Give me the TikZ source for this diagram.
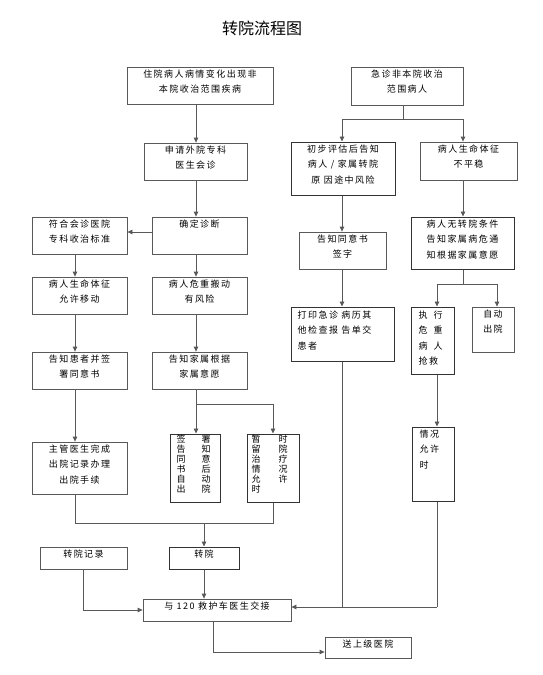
\documentclass[tikz,border=0pt]{standalone}
\usepackage{fontspec}
\setmainfont{Noto Sans CJK SC}[LetterSpace=16]
\newfontfamily\titlefont{Noto Sans CJK SC}
\usetikzlibrary{fit,calc,positioning,arrows.meta}
\begin{document}
\begin{tikzpicture}[x=1pt,y=-1pt,
 box/.style={draw=black!65, line width=0.8pt, inner sep=0pt, rectangle},
 boxb/.style={box, draw=black!80, line width=1.0pt},
 txt/.style={font=\fontsize{9}{15.5}\selectfont, align=center, inner sep=0pt},
 ltxt/.style={txt, align=left, anchor=north west},
 vtxt/.style={font=\fontsize{9}{10}\selectfont, align=center, inner sep=0pt, anchor=north},
 ln/.style={draw=black!65, line width=0.8pt},
 arr/.style={ln, -{Triangle[length=5pt,width=4.5pt]}}]
\fill[white] (0,0) rectangle (543,675);
\useasboundingbox (0,0) rectangle (543,675);
% title
\node[font=\titlefont\fontsize{16}{16}\selectfont, inner sep=0pt] (title) at (262,28) {转院流程图};
% boxes
\node[box, fit={(127,67) (273,104)}] (A) {};
\node[txt, below=3pt of A.north] (At) {住院病人病情变化出现非\\本院收治范围疾病};
\node[box, fit={(351,67) (463,105)}] (B) {};
\node[txt, below=3pt of B.north] (Bt) {急诊非本院收治\\范围病人};
\node[box, fit={(144,143) (247,180)}] (C) {};
\node[txt, below=3pt of C.north] (Ct) {申请外院专科\\医生会诊};
\node[boxb, fit={(291,142) (395,195)}] (D) {};
\node[txt, below=3pt of D.north] (Dt) {初步评估后告知\\病人 / 家属转院\\原 因途中风险};
\node[box, fit={(420,142) (517,180)}] (E) {};
\node[txt, below=3pt of E.north] (Et) {病人生命体征\\不平稳};
\node[box, fit={(152,217) (247,254)}] (F) {};
\node[txt, below=3pt of F.north] (Ft) {确定诊断};
\node[box, fit={(32,217) (127,254)}] (G) {};
\node[txt, below=3pt of G.north] (Gt) {符合会诊医院\\专科收治标准};
\node[box, fit={(32,277) (127,314)}] (H) {};
\node[txt, below=3pt of H.north] (Ht) {病人生命体征\\允许移动};
\node[box, fit={(152,277) (247,314)}] (I) {};
\node[txt, below=3pt of I.north] (It) {病人危重搬动\\有风险};
\node[box, fit={(32,352) (127,389)}] (J) {};
\node[txt, below=3pt of J.north] (Jt) {告知患者并签\\署同意书};
\node[box, fit={(152,352) (247,389)}] (K) {};
\node[txt, below=3pt of K.north] (Kt) {告知家属根据\\家属意愿};
\node[box, fit={(299,232) (386,269)}] (L) {};
\node[txt, below=3pt of L.north] (Lt) {告知同意书\\签字};
\node[boxb, fit={(291,307) (394,361)}] (M) {};
\node[ltxt] (Mt) at ($(M.north west)+(7,4)$) {打印急诊 病历其\\他检查报 告单交\\患者};
\node[boxb, fit={(411,217) (514,269)}] (N) {};
\node[txt, below=3pt of N.north] (Nt) {病人无转院条件\\告知家属病危通\\知根据家属意愿};
\node[boxb, fit={(411,307) (454,374)}] (O) {};
\node[ltxt] (Ot) at ($(O.north west)+(8,4)$) {执\hspace{6pt}行\\危\hspace{6pt}重\\病\hspace{6pt}人\\抢救};
\node[box, fit={(472,307) (514,352)}] (P) {};
\node[txt, below=3pt of P.north] (Pt) {自动\\出院};
\node[box, fit={(32,442) (127,494)}] (Q) {};
\node[txt, below=3pt of Q.north] (Qt) {主管医生完成\\出院记录办理\\出院手续};
\node[boxb, fit={(170,434) (220,502)}] (R) {};
\node[vtxt] (R1) at (181,435) {签\\告\\同\\书\\自\\出};
\node[vtxt] (R2) at (206,435) {署\\知\\意\\后\\动\\院};
\node[boxb, fit={(247,434) (299,502)}] (S) {};
\node[vtxt] (S1) at (256,435) {暂\\留\\治\\情\\允\\时};
\node[vtxt] (S2) at (283,435) {时\\院\\疗\\况\\许};
\node[boxb, fit={(412,427) (454,501)}] (T) {};
\node[ltxt] (Tt) at ($(T.north west)+(8,3)$) {情况\\允许\\时};
\node[box, fit={(40,547) (127,569)}] (W) {};
\node[txt, below=3pt of W.north] (Wt) {转院记录};
\node[boxb, fit={(169,547) (239,569)}] (U) {};
\node[txt, below=3pt of U.north] (Ut) {转院};
\node[box, fit={(143,599) (291,621)}] (V) {};
\node[txt, below=3pt of V.north] (Vt) {与 120 救护车医生交接};
\node[box, fit={(325,637) (411,658)}] (X) {};
\node[txt, below=3pt of X.north] (Xt) {送上级医院};
% column / row coordinates
\coordinate (c1) at (75,0);
\coordinate (c2) at (196,0);
\coordinate (c3) at (273,0);
\coordinate (c4) at (204,0);
\coordinate (c5) at (342,0);
\coordinate (c6) at (463,0);
\coordinate (c7) at (437,0);
\coordinate (c8) at (497,0);
\coordinate (c9) at (403,0);
\coordinate (c10) at (83,0);
\coordinate (c11) at (213,0);
\coordinate (r1) at (0,119);
\coordinate (r2) at (0,232);
\coordinate (r3) at (0,284);
\coordinate (r4) at (0,404);
\coordinate (r5) at (0,523);
\coordinate (r6) at (0,610);
\coordinate (r7) at (0,607);
\coordinate (r8) at (0,652);
% left branch
\draw[arr] (A.south -| c2) -- (C.north -| c2);
\draw[arr] (C.south -| c2) -- (F.north -| c2);
\draw[arr] (F.west |- r2) -- (G.east |- r2);
\draw[arr] (G.south -| c1) -- (H.north -| c1);
\draw[arr] (H.south -| c1) -- (J.north -| c1);
\draw[arr] (J.south -| c1) -- (Q.north -| c1);
\draw[arr] (F.south -| c2) -- (I.north -| c2);
\draw[arr] (I.south -| c2) -- (K.north -| c2);
\draw[ln] (K.south -| c2) -- (c2 |- r4) -- (c3 |- r4);
\draw[arr] (c2 |- r4) -- (R.north -| c2);
\draw[arr] (c3 |- r4) -- (S.north -| c3);
\draw[ln] (Q.south -| c1) -- (c1 |- r5) -- (c3 |- r5) -- (S.south -| c3);
\draw[arr] (c4 |- r5) -- (U.north -| c4);
\draw[arr] (U.south -| c4) -- (V.north -| c4);
\draw[ln] (W.south -| c10) -- (c10 |- r6);
\draw[arr] (c10 |- r6) -- (V.west |- r6);
% right branch
\draw[ln] (B.south -| c9) -- (c9 |- r1);
\draw[ln] (c5 |- r1) -- (c6 |- r1);
\draw[arr] (c5 |- r1) -- (D.north -| c5);
\draw[arr] (c6 |- r1) -- (E.north -| c6);
\draw[arr] (D.south -| c5) -- (L.north -| c5);
\draw[arr] (L.south -| c5) -- (M.north -| c5);
\draw[arr] (E.south -| c6) -- (N.north -| c6);
\draw[ln] (N.south -| c6) -- (c6 |- r3);
\draw[ln] (c7 |- r3) -- (c8 |- r3);
\draw[arr] (c7 |- r3) -- (O.north -| c7);
\draw[arr] (c8 |- r3) -- (P.north -| c8);
\draw[arr] (O.south -| c7) -- (T.north -| c7);
\draw[ln] (M.south -| c5) -- (c5 |- r7);
\draw[ln] (T.south -| c7) -- (c7 |- r7);
\draw[arr] (c7 |- r7) -- (V.east |- r7);
\draw[ln] (V.south -| c11) -- (c11 |- r8);
\draw[arr] (c11 |- r8) -- (X.west |- r8);
\end{tikzpicture}
\end{document}
